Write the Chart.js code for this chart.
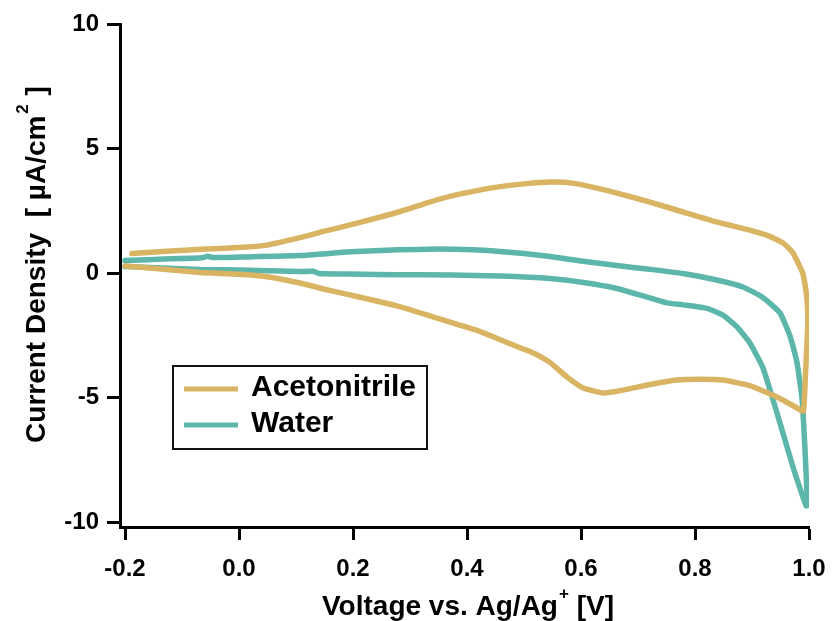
<!DOCTYPE html>
<html>
<head>
<meta charset="utf-8">
<script src="https://cdn.jsdelivr.net/npm/chart.js@4.4.1/dist/chart.umd.min.js"></script>
<style>
  html, body { margin: 0; padding: 0; background: #fff; }
  #wrap { width: 833px; height: 621px; }
</style>
</head>
<body>
<div id="wrap"><canvas id="c" width="833" height="621"></canvas></div>
<script>
// ---- data ----
const seriesNames = ["Acetonitrile", "Water"];
const xTickValues = [-0.2, 0.0, 0.2, 0.4, 0.6, 0.8, 1.0];
const yTickValues = [-10, -5, 0, 5, 10];

const acnV = [-0.188,-0.12,-0.068,0.0,0.049,0.107,0.15,0.195,0.24,0.28,0.33,0.37,0.42,0.458,0.5,0.546,0.589,0.63,0.663,0.721,0.779,0.838,0.896,0.93,0.955,0.972,0.983,0.989,0.994,0.997,0.998,0.996,0.994,0.992,0.99,0.979,0.954,0.926,0.896,0.849,0.809,0.768,0.721,0.663,0.639,0.604,0.575,0.546,0.52,0.493,0.45,0.423,0.353,0.282,0.195,0.15,0.107,0.049,0.0,-0.068,-0.156,-0.2];
const acnJ = [0.78,0.88,0.95,1.02,1.12,1.42,1.68,1.93,2.2,2.45,2.82,3.08,3.32,3.47,3.58,3.65,3.6,3.4,3.21,2.85,2.45,2.05,1.72,1.48,1.2,0.8,0.3,0.0,-0.6,-1.2,-2.0,-3.0,-4.0,-5.0,-5.55,-5.42,-5.1,-4.8,-4.52,-4.3,-4.27,-4.3,-4.48,-4.75,-4.82,-4.62,-4.17,-3.6,-3.25,-3.0,-2.6,-2.35,-1.85,-1.35,-0.88,-0.65,-0.4,-0.15,-0.05,0.02,0.2,0.28];

const watV = [-0.2,-0.12,-0.065,-0.055,-0.045,0.0,0.107,0.195,0.28,0.35,0.41,0.458,0.5,0.546,0.6,0.663,0.72,0.779,0.838,0.884,0.919,0.949,0.967,0.979,0.988,0.993,0.996,0.998,0.995,0.985,0.972,0.954,0.937,0.919,0.896,0.874,0.849,0.821,0.779,0.751,0.721,0.663,0.604,0.546,0.458,0.37,0.28,0.195,0.14,0.13,0.107,0.0,-0.068,-0.2];
const watJ = [0.5,0.57,0.61,0.67,0.62,0.64,0.7,0.85,0.93,0.96,0.93,0.86,0.78,0.66,0.48,0.3,0.15,-0.02,-0.28,-0.56,-0.98,-1.6,-2.55,-3.6,-5.1,-7.1,-8.6,-9.3,-9.35,-8.7,-7.8,-6.4,-5.1,-3.8,-2.8,-2.17,-1.69,-1.42,-1.28,-1.2,-1.0,-0.62,-0.38,-0.22,-0.12,-0.08,-0.07,-0.04,-0.02,0.07,0.06,0.12,0.14,0.26];

const colors = ["#D9B462", "#5CB6AA"];
// ---------------------------------------

const FONT = '"Liberation Sans", Arial, Helvetica, sans-serif';
const toPts = (xs, ys) => xs.map((x, i) => ({ x: x, y: ys[i] }));

const titlePlugin = {
  id: 'titles',
  afterDraw(chart) {
    const ctx = chart.ctx;
    ctx.save();
    ctx.fillStyle = '#000';
    ctx.textBaseline = 'alphabetic';
    ctx.textAlign = 'left';
    // x title
    const big = 'bold 28px ' + FONT, small = 'bold 17px ' + FONT;
    const xa = 'Voltage vs. Ag/Ag', xs = '+', xb = ' [V]';
    ctx.font = big; const w1 = ctx.measureText(xa).width;
    ctx.font = small; const w2 = ctx.measureText(xs).width;
    const x0 = 322, by = 615;
    ctx.font = big; ctx.fillText(xa, x0, by);
    ctx.font = small; ctx.fillText(xs, x0 + w1 + 1, by - 16);
    ctx.font = big; ctx.fillText(xb, x0 + w1 + w2 + 1, by);
    // y title
    const ya = 'Current Density  [ \u00B5A/cm', ys = '2', yb = ' ]';
    ctx.font = big; const v1 = ctx.measureText(ya).width, v3 = ctx.measureText(yb).width;
    ctx.font = small; const v2 = ctx.measureText(ys).width;
    ctx.translate(45, 266);
    ctx.rotate(-Math.PI / 2);
    const s = -(v1 + v2 + v3) / 2;
    ctx.font = big; ctx.fillText(ya, s, 0);
    ctx.font = small; ctx.fillText(ys, s + v1 + 2, -17);
    ctx.font = big; ctx.fillText(yb, s + v1 + v2 + 3, 0);
    ctx.restore();

    // legend
    ctx.save();
    ctx.strokeStyle = '#111';
    ctx.lineWidth = 2;
    ctx.strokeRect(173, 366, 254, 83);
    ctx.font = 'bold 30px ' + FONT;
    ctx.textBaseline = 'middle';
    ctx.fillStyle = '#000';
    const rows = [389, 425];
    seriesNames.forEach((n, i) => {
      ctx.strokeStyle = colors[i];
      ctx.lineWidth = 5;
      ctx.beginPath();
      ctx.moveTo(184, rows[i]);
      ctx.lineTo(238, rows[i]);
      ctx.stroke();
      ctx.fillText(n, 251, rows[i] - 1);
    });
    ctx.restore();
  }
};

new Chart(document.getElementById('c'), {
  type: 'scatter',
  data: {
    datasets: [
      { label: seriesNames[0], data: toPts(acnV, acnJ), showLine: true, borderColor: colors[0], backgroundColor: colors[0], borderWidth: 5.5, pointRadius: 0, tension: 0.15, borderCapStyle: 'round', borderJoinStyle: 'round' },
      { label: seriesNames[1], data: toPts(watV, watJ), showLine: true, borderColor: colors[1], backgroundColor: colors[1], borderWidth: 5.5, pointRadius: 0, tension: 0.15, borderCapStyle: 'round', borderJoinStyle: 'round' }
    ]
  },
  options: {
    responsive: false,
    animation: false,
    devicePixelRatio: 1,
    layout: { padding: { left: 0, right: 24, top: 24, bottom: 0 } },
    plugins: { legend: { display: false }, tooltip: { enabled: false }, title: { display: false } },
    scales: {
      x: {
        type: 'linear',
        min: -0.2088, max: 1.0,
        afterFit(scale) { scale.height = 94; scale.paddingLeft = 0; scale.paddingRight = 0; },
        afterBuildTicks(scale) { scale.ticks = xTickValues.map(v => ({ value: v })); },
        border: { display: true, color: '#000', width: 3 },
        grid: { display: true, drawOnChartArea: false, drawTicks: true, tickLength: 13, tickWidth: 3, tickColor: '#000' },
        ticks: { color: '#000', font: { family: FONT, size: 24, weight: 'bold' }, padding: 15, maxRotation: 0,
          callback: v => v.toFixed(1) }
      },
      y: {
        type: 'linear',
        min: -10.2, max: 10,
        afterFit(scale) { scale.width = 120; scale.paddingTop = 0; scale.paddingBottom = 0; },
        afterBuildTicks(scale) { scale.ticks = yTickValues.map(v => ({ value: v })); },
        border: { display: true, color: '#000', width: 3 },
        grid: { display: true, drawOnChartArea: false, drawTicks: true, tickLength: 13, tickWidth: 3, tickColor: '#000' },
        ticks: { color: '#000', font: { family: FONT, size: 24, weight: 'bold' }, padding: 8,
          callback: v => String(v) }
      }
    }
  },
  plugins: [titlePlugin]
});
</script>
</body>
</html>
